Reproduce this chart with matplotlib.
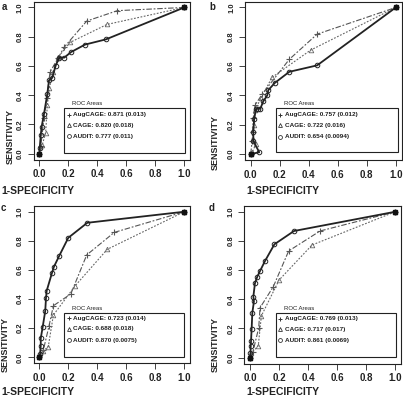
import numpy as np
import matplotlib
matplotlib.use("Agg")
import matplotlib.pyplot as plt
from matplotlib.patches import Rectangle

plt.rcParams['font.family'] = ['Liberation Sans', 'DejaVu Sans']
plt.rcParams['font.weight'] = 'bold'

# ---------------------------------------------------------------
# data
# ---------------------------------------------------------------
panels = ["a", "b", "c", "d"]
series_names = ["AugCAGE", "CAGE", "AUDIT"]

# panel a
a_aug_x = [0, 0.01, 0.032, 0.051, 0.074, 0.131, 0.172, 0.327, 0.538, 1.0]
a_aug_y = [0, 0.05, 0.241, 0.378, 0.559, 0.657, 0.729, 0.907, 0.978, 1.0]
a_cage_x = [0, 0.02, 0.044, 0.055, 0.07, 0.095, 0.13, 0.212, 0.467, 1.0]
a_cage_y = [0, 0.06, 0.143, 0.33, 0.45, 0.56, 0.66, 0.761, 0.884, 1.0]
a_aud_x = [0, 0.003, 0.01, 0.016, 0.032, 0.055, 0.067, 0.09, 0.113, 0.138, 0.172, 0.219, 0.315, 0.46, 1.0]
a_aud_y = [0, 0.041, 0.127, 0.184, 0.27, 0.407, 0.502, 0.52, 0.603, 0.657, 0.657, 0.695, 0.746, 0.782, 1.0]

# panel b
b_aug_x = [0, 0.01, 0.013, 0.018, 0.03, 0.08, 0.266, 0.458, 1.0]
b_aug_y = [0, 0.09, 0.15, 0.243, 0.334, 0.41, 0.646, 0.818, 1.0]
b_cage_x = [0, 0.012, 0.036, 0.015, 0.02, 0.03, 0.07, 0.147, 0.413, 1.0]
b_cage_y = [0, 0.015, 0.07, 0.1, 0.2, 0.3, 0.38, 0.523, 0.709, 1.0]
b_aud_x = [0, 0.059, 0.018, 0.018, 0.024, 0.036, 0.05, 0.066, 0.087, 0.114, 0.121, 0.167, 0.266, 0.458, 1.0]
b_aud_y = [0, 0.012, 0.089, 0.152, 0.24, 0.305, 0.31, 0.309, 0.36, 0.40, 0.436, 0.486, 0.561, 0.605, 1.0]

# panel c
c_aug_x = [0, 0.028, 0.067, 0.097, 0.217, 0.327, 0.517, 1.0]
c_aug_y = [0, 0.05, 0.215, 0.354, 0.435, 0.703, 0.858, 1.0]
c_cage_x = [0, 0.023, 0.062, 0.097, 0.248, 0.469, 1.0]
c_cage_y = [0, 0.04, 0.073, 0.29, 0.492, 0.742, 1.0]
c_aud_x = [0, 0.005, 0.01, 0.01, 0.023, 0.041, 0.046, 0.051, 0.088, 0.101, 0.138, 0.2, 0.331, 1.0]
c_aud_y = [0, 0.02, 0.08, 0.13, 0.206, 0.318, 0.405, 0.457, 0.581, 0.622, 0.698, 0.821, 0.924, 1.0]

# panel d
d_aug_x = [0, 0.02, 0.06, 0.069, 0.16, 0.266, 0.482, 1.0]
d_aug_y = [0, 0.04, 0.205, 0.342, 0.486, 0.731, 0.868, 1.0]
d_cage_x = [0, 0.01, 0.057, 0.078, 0.2, 0.427, 1.0]
d_cage_y = [0, 0.03, 0.082, 0.286, 0.532, 0.772, 1.0]
d_aud_x = [0, 0.003, 0.005, 0.007, 0.011, 0.016, 0.027, 0.023, 0.034, 0.05, 0.069, 0.103, 0.168, 0.303, 1.0]
d_aud_y = [0, 0.03, 0.08, 0.114, 0.194, 0.308, 0.385, 0.418, 0.51, 0.555, 0.594, 0.662, 0.777, 0.868, 1.0]

legend_a = ["AugCAGE: 0.871 (0.013)", "CAGE: 0.820 (0.018)", "AUDIT: 0.777 (0.011)"]
legend_b = ["AugCAGE: 0.757 (0.012)", "CAGE: 0.722 (0.016)", "AUDIT: 0.654 (0.0094)"]
legend_c = ["AugCAGE: 0.723 (0.014)", "CAGE: 0.688 (0.018)", "AUDIT: 0.870 (0.0075)"]
legend_d = ["AugCAGE: 0.769 (0.013)", "CAGE: 0.717 (0.017)", "AUDIT: 0.861 (0.0069)"]

ticks = [0.0, 0.2, 0.4, 0.6, 0.8, 1.0]
tick_labels = ["0.0", "0.2", "0.4", "0.6", "0.8", "1.0"]

data = {
    "a": [(a_aug_x, a_aug_y), (a_cage_x, a_cage_y), (a_aud_x, a_aud_y)],
    "b": [(b_aug_x, b_aug_y), (b_cage_x, b_cage_y), (b_aud_x, b_aud_y)],
    "c": [(c_aug_x, c_aug_y), (c_cage_x, c_cage_y), (c_aud_x, c_aud_y)],
    "d": [(d_aug_x, d_aug_y), (d_cage_x, d_cage_y), (d_aud_x, d_aud_y)],
}
legends = {"a": legend_a, "b": legend_b, "c": legend_c, "d": legend_d}

# ---------------------------------------------------------------
# layout (pixels in the 403x399 picture)
# ---------------------------------------------------------------
W, H = 403, 399
# left, right, top, bottom of each plot box
boxes = {"a": (33.5, 190.1, 1.6, 159.6),
         "b": (244.9, 401.6, 1.6, 159.9),
         "c": (33.5, 190.1, 205.9, 363.1),
         "d": (244.2, 401.1, 205.9, 363.5)}
# legend rectangle in data coords: x0, x1, y0, y1
leg_rect = {"a": (0.172, 1.005, 0.007, 0.314),
            "b": (0.174, 1.016, 0.016, 0.316),
            "c": (0.172, 1.0, 0.005, 0.302),
            "d": (0.179, 1.007, 0.007, 0.304)}
leg_rows = [0.268, 0.196, 0.118]
ylab_pos = {"a": (10, 137), "b": (215, 143), "c": (5, 344), "d": (215, 345)}
xlab_pos = {"a": (1, 191), "b": (246, 191), "c": (1, 392), "d": (246, 392)}
tag_pos = {"a": (2, 7), "b": (209, 7), "c": (1, 208), "d": (209, 208)}

styles = [
    dict(color="#555555", lw=0.8, dashes=(5, 1.6, 1.6, 1.6), marker="+", ms=4.5, mew=0.8),
    dict(color="#666666", lw=0.8, dashes=(1.6, 1.4), marker="^", ms=3.3, mew=0.6, mfc="none"),
    dict(color="#222222", lw=1.3, ls="-", marker="o", ms=3.3, mew=0.7, mfc="none"),
]
leg_markers = [dict(marker="+", ms=3.5, mew=0.7, color="#333333"),
               dict(marker="^", ms=2.8, mew=0.6, mfc="none", color="#333333"),
               dict(marker="o", ms=2.8, mew=0.6, mfc="none", color="#333333")]

fig = plt.figure(figsize=(W / 100, H / 100), dpi=100)

for p in panels:
    l, r, t, b = boxes[p]
    ax = fig.add_axes([l / W, 1 - b / H, (r - l) / W, (b - t) / H])
    ax.set_xlim(-0.04, 1.04)
    ax.set_ylim(-0.04, 1.04)

    for (xs, ys), st in zip(data[p], styles):
        ax.plot(xs, ys, **st)
    # filled end points
    ax.plot([0, 1], [0, 1], ls="none", marker="s", ms=3, color="#111111")

    ax.set_xticks(ticks)
    ax.set_xticklabels(tick_labels, fontsize=7)
    ax.set_yticks(ticks)
    ax.set_yticklabels(tick_labels, fontsize=5.5, rotation=90, va="center")
    ax.tick_params(length=4, width=0.6, pad=3, colors="#222222")
    for s in ax.spines.values():
        s.set_linewidth(0.8)
        s.set_color("#222222")

    # legend box
    x0, x1, y0, y1 = leg_rect[p]
    ax.add_patch(Rectangle((x0, y0), x1 - x0, y1 - y0, fill=False, lw=0.8,
                           ec="#222222", clip_on=False))
    ax.text(x0 + 0.055, y1 + 0.015, "ROC Areas", fontsize=4.3, fontweight="normal",
            va="bottom", ha="left", color="#222222")
    for yy, lab, mk in zip(leg_rows, legends[p], leg_markers):
        ax.plot([x0 + 0.03], [yy], ls="none", **mk)
        ax.text(x0 + 0.06, yy, lab, fontsize=4.6, va="center", ha="left", color="#222222")

    fig.text(ylab_pos[p][0] / W, 1 - ylab_pos[p][1] / H, "SENSITIVITY", rotation=90,
             fontsize=6.5, ha="center", va="center", color="#222222")
    fig.text(xlab_pos[p][0] / W, 1 - xlab_pos[p][1] / H, "1-SPECIFICITY",
             fontsize=7.5, ha="left", va="center", color="#222222")
    fig.text(tag_pos[p][0] / W, 1 - tag_pos[p][1] / H, p, fontsize=7,
             ha="left", va="center", color="#222222")

fig.savefig("out.png", dpi=100)
